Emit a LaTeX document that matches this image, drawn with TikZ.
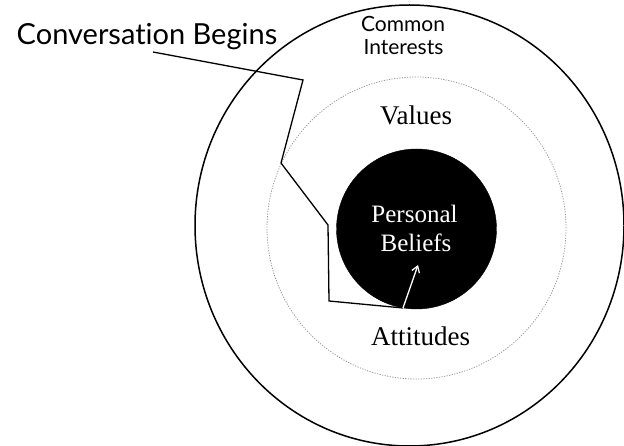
\documentclass[tikz,border=0pt]{standalone}
\usepackage{fontspec}
\newfontfamily\gill[Ligatures={NoCommon,NoContextual}]{Lato}
\newfontfamily\serifx{Liberation Serif}
\usetikzlibrary{shapes.geometric,arrows.meta}
\begin{document}
\begin{tikzpicture}[x=1pt,y=-1pt,
  ring/.style={ellipse,draw,inner sep=0pt},
  label/.style={anchor=base,inner sep=0pt},
  conn/.style={line width=1.3pt,line join=miter},
]
\useasboundingbox (0,0) rectangle (624,446);
\node[ring,line width=1.5pt,minimum width=429pt,minimum height=441pt] (outer) at (409.5,225.5) {};
\node[ring,draw=black!40,dash pattern=on 1.2pt off 1.4pt,line width=0.8pt,minimum width=299pt,minimum height=302pt] (mid) at (416.5,228) {};
\node[circle,fill=black,draw=black,minimum size=160pt,inner sep=0pt] (core) at (416.5,229) {};
\node[label,font=\gill\fontsize{29}{32}\selectfont] (conv) at (147,45) {Conversation Begins};
\node[label,font=\gill\fontsize{21}{24}\selectfont] (common) at (403,32) {Common};
\node[label,font=\gill\fontsize{21}{24}\selectfont] (interests) at (403.5,55) {Interests};
\node[label,font=\serifx\fontsize{27}{30}\selectfont] (values) at (416,125) {Values};
\node[label,font=\serifx\fontsize{27}{30}\selectfont] (attitudes) at (420.5,345) {Attitudes};
\node[label,text=white,font=\serifx\fontsize{25}{28}\selectfont] (personal) at (414.5,223) {Personal};
\node[label,text=white,font=\serifx\fontsize{25}{28}\selectfont] (beliefs) at (416,252) {Beliefs};
\coordinate (s) at (153,52);
\coordinate (p1) at (303,80);
\coordinate (p2) at (281,163);
\coordinate (p3) at (328,225);
\coordinate (p4) at (329,301);
\coordinate (e) at (403,308);
\coordinate (tip) at (418,265);
\draw[conn] (s) -- (p1) -- (p2) -- (p3) -- (p4) -- (e);
\draw[white,line width=1.3pt,-{Straight Barb[length=6pt,width=8pt]}] (e) -- (tip);
\end{tikzpicture}
\end{document}
